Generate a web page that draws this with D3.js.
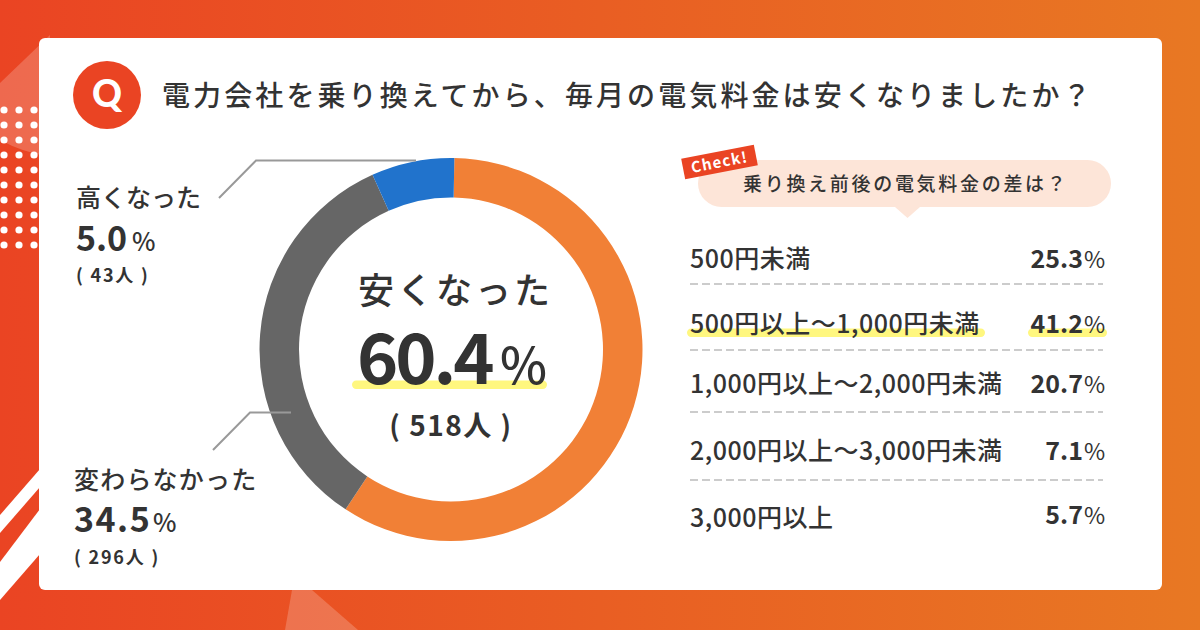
<!DOCTYPE html>
<html>
<head>
<meta charset="utf-8">
<script src="https://cdn.jsdelivr.net/npm/d3@7"></script>
<style>
html, body { margin: 0; padding: 0; background: #fff; }
svg { display: block; }
text { font-family: "Noto Sans CJK JP", sans-serif; fill: #333; }
</style>
</head>
<body>
<div id="chart"></div>
<script>
"use strict";

// donut: share of the ring, clockwise from the top
var sliceKeys = ["安くなった", "変わらなかった", "高くなった"];
var sliceShares = [59, 34, 7];
var sliceColors = ["#f18036", "#666666", "#2173cc"];

// printed labels
var answerNames = ["高くなった", "変わらなかった"];
var answerPercents = ["5.0", "34.5"];
var answerCounts = ["( 43人 )", "( 296人 )"];

// right hand table
var diffLabels = ["500円未満", "500円以上～1,000円未満", "1,000円以上～2,000円未満", "2,000円以上～3,000円未満", "3,000円以上"];
var diffValues = ["25.3", "41.2", "20.7", "7.1", "5.7"];

var dotCols = [4, 19, 34];
var dotRows = [110, 125, 140, 155, 170, 185, 200, 215, 230, 245];

var svg = d3.select("#chart").append("svg")
    .attr("width", 1200)
    .attr("height", 630);

var grad = svg.append("defs").append("linearGradient").attr("id", "bg");
grad.append("stop").attr("offset", "0%").attr("stop-color", "#ea4423");
grad.append("stop").attr("offset", "100%").attr("stop-color", "#e87823");

svg.append("rect").attr("width", 1200).attr("height", 630).attr("fill", "url(#bg)");

// background decoration
var deco = svg.append("g");
deco.append("path")
    .attr("d", "M0,83L50,35L50,157Q22,152 0,140Z")
    .attr("fill", "#fff").attr("opacity", 0.2);
deco.append("path")
    .attr("d", "M292,590L312,590L358,630L285,630Z")
    .attr("fill", "#fff").attr("opacity", 0.2);
deco.append("path")
    .attr("d", "M40,469L40,487L0,533L0,515Z")
    .attr("fill", "#fff");
deco.append("path")
    .attr("d", "M40,509L40,554L0,600L0,562Z")
    .attr("fill", "#fff");
dotRows.forEach(function (y) {
    dotCols.forEach(function (x) {
        deco.append("circle").attr("cx", x).attr("cy", y).attr("r", 3.6).attr("fill", "#fff");
    });
});

// card
svg.append("rect")
    .attr("x", 39).attr("y", 38)
    .attr("width", 1123).attr("height", 552)
    .attr("rx", 6)
    .attr("fill", "#fff");

// heading
svg.append("circle").attr("cx", 107).attr("cy", 95).attr("r", 34).attr("fill", "#ea4423");
svg.append("text")
    .attr("x", 107).attr("y", 107)
    .attr("text-anchor", "middle")
    .attr("font-size", 37).attr("font-weight", 900)
    .style("fill", "#fff")
    .style("font-family", "Lato")
    .text("Q");

svg.append("text")
    .attr("x", 162).attr("y", 106)
    .attr("font-size", 28).attr("font-weight", 500)
    .attr("letter-spacing", 3.1)
    .text("電力会社を乗り換えてから、毎月の電気料金は安くなりましたか？");

// donut
var cx = 451, cy = 349.5;
var startAngle = 1 * Math.PI / 180;

var pie = d3.pie()
    .value(function (d, i) { return sliceShares[i]; })
    .sort(null)
    .startAngle(startAngle)
    .endAngle(startAngle + 2 * Math.PI);

var arc = d3.arc().innerRadius(152).outerRadius(191.5);

var color = d3.scaleOrdinal().domain(sliceKeys).range(sliceColors);

svg.append("g")
    .attr("transform", "translate(" + cx + "," + cy + ")")
    .selectAll("path")
    .data(pie(sliceKeys))
    .enter().append("path")
    .attr("d", arc)
    .attr("fill", function (d) { return color(d.data); });

// leader lines
[[[219, 198], [256, 160.5], [416, 160.5]], [[213, 450], [250, 412.5], [291, 412.5]]].forEach(function (pts) {
    svg.append("path")
        .attr("d", d3.line()(pts))
        .attr("fill", "none")
        .attr("stroke", "#999")
        .attr("stroke-width", 2);
});

// centre label
svg.append("text")
    .attr("x", 358).attr("y", 304)
    .attr("font-size", 36).attr("font-weight", 500)
    .attr("letter-spacing", 3)
    .text(sliceKeys[0]);

svg.append("rect")
    .attr("x", 352).attr("y", 380.5)
    .attr("width", 195).attr("height", 8.5)
    .attr("rx", 4.2)
    .attr("fill", "#fff77f");

svg.append("text")
    .attr("x", 357).attr("y", 384)
    .attr("font-size", 70).attr("font-weight", 700)
    .attr("letter-spacing", -3)
    .text("60.4");
svg.append("text")
    .attr("x", 500).attr("y", 384)
    .attr("font-size", 50).attr("font-weight", 500)
    .text("%");

svg.append("text")
    .attr("x", 451).attr("y", 436)
    .attr("text-anchor", "middle")
    .attr("font-size", 28).attr("font-weight", 700)
    .attr("letter-spacing", 1.5)
    .text("( 518人 )");

// side labels
var labelX = [76, 74];
var nameY = [207, 489];
var nameSpacing = [0, 1.2];
var pctY = [251, 532];
var pctSpacing = [0, 1.5];
var pctSignX = [132, 153];
var countY = [282, 564];

answerNames.forEach(function (name, i) {
    svg.append("text")
        .attr("x", labelX[i]).attr("y", nameY[i])
        .attr("font-size", 25).attr("font-weight", 500)
        .attr("letter-spacing", nameSpacing[i])
        .text(name);
    svg.append("text")
        .attr("x", labelX[i]).attr("y", pctY[i])
        .attr("font-size", 34).attr("font-weight", 700)
        .attr("letter-spacing", pctSpacing[i])
        .text(answerPercents[i]);
    svg.append("text")
        .attr("x", pctSignX[i]).attr("y", pctY[i])
        .attr("font-size", 25).attr("font-weight", 500)
        .text("%");
    svg.append("text")
        .attr("x", labelX[i]).attr("y", countY[i])
        .attr("font-size", 18).attr("font-weight", 700)
        .attr("letter-spacing", 1.8)
        .text(answerCounts[i]);
});

// speech bubble
svg.append("rect")
    .attr("x", 698).attr("y", 160)
    .attr("width", 413).attr("height", 47)
    .attr("rx", 23.5)
    .attr("fill", "#fde5d8");
svg.append("path")
    .attr("d", "M895,207L907.5,218L920,207Z")
    .attr("fill", "#fde5d8");
svg.append("text")
    .attr("x", 743).attr("y", 191)
    .attr("font-size", 19).attr("font-weight", 500)
    .attr("letter-spacing", 2.7)
    .text("乗り換え前後の電気料金の差は？");

var tag = svg.append("g").attr("transform", "translate(719.5,162) rotate(-11)");
tag.append("rect")
    .attr("x", -37).attr("y", -10.5)
    .attr("width", 74).attr("height", 21)
    .attr("fill", "#ea4423");
tag.append("text")
    .attr("y", 5.5)
    .attr("text-anchor", "middle")
    .attr("font-size", 15).attr("font-weight", 700)
    .attr("letter-spacing", 1.2)
    .style("fill", "#fff")
    .text("Check!");

// table
var rowY = [268, 333, 393, 460, 527];
var valueY = [268, 333, 393, 460, 524];
var ruleY = [284, 350, 412, 480];
var highlightRow = 1;

svg.selectAll("line.rule")
    .data(ruleY)
    .enter().append("line")
    .attr("class", "rule")
    .attr("x1", 690).attr("x2", 1103)
    .attr("y1", function (d) { return d; })
    .attr("y2", function (d) { return d; })
    .attr("stroke", "#ccc")
    .attr("stroke-width", 2)
    .attr("stroke-dasharray", "8 4");

[[687, 298], [1028, 79]].forEach(function (b) {
    svg.append("rect")
        .attr("x", b[0]).attr("y", rowY[highlightRow] - 4.5)
        .attr("width", b[1]).attr("height", 8.5)
        .attr("rx", 4.2)
        .attr("fill", "#fff77f");
});

var rows = svg.selectAll("g.row")
    .data(diffLabels)
    .enter().append("g")
    .attr("class", "row");

rows.append("text")
    .attr("x", 690)
    .attr("y", function (d, i) { return rowY[i]; })
    .attr("font-size", 25).attr("font-weight", 500)
    .attr("letter-spacing", 0.5)
    .text(function (d) { return d; });

rows.append("text")
    .attr("x", 1083)
    .attr("y", function (d, i) { return valueY[i]; })
    .attr("text-anchor", "end")
    .attr("font-size", 25).attr("font-weight", 700)
    .text(function (d, i) { return diffValues[i]; });

rows.append("text")
    .attr("x", 1084)
    .attr("y", function (d, i) { return valueY[i]; })
    .attr("font-size", 23).attr("font-weight", 400)
    .text("%");
</script>
</body>
</html>
